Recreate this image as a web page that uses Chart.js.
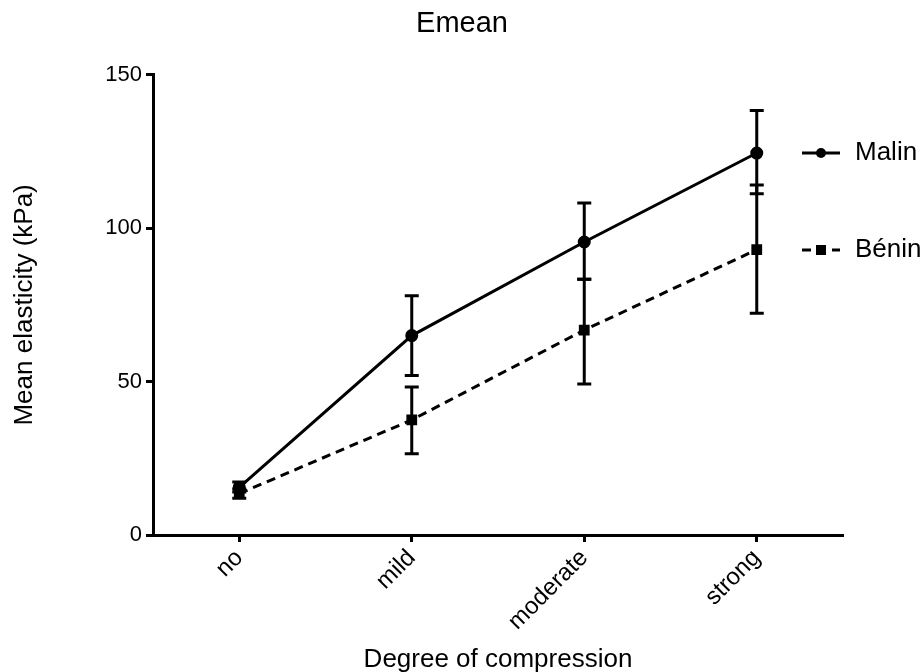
<!DOCTYPE html>
<html lang="en">
<head>
    <meta charset="UTF-8">
    <title>Emean</title>
    <style>
        body {
            margin: 0;
            background: #ffffff;
        }

        #wrap {
            width: 924px;
            height: 672px;
        }
    </style>
</head>
<body>

<div id="wrap">
    <canvas id="grafico" width="924" height="672"></canvas>
</div>

<script src="https://cdn.jsdelivr.net/npm/chart.js"></script>
<script>
    // categories on the x axis
    const categorias = ['no', 'mild', 'moderate', 'strong'];

    // mean values
    const malin = [15.5, 65, 95.5, 124.5];
    const benin = [13.5, 37.5, 66.8, 93];

    // error bar ends (upper / lower)
    const malinAlto = [17.3, 78, 108.2, 138.4];
    const malinBaixo = [14, 52, 83.4, 111.2];
    const beninAlto = [15, 48.2, 83.4, 114.1];
    const beninBaixo = [12, 26.5, 49.2, 72.3];

    const yTicks = [0, 50, 100, 150];

    const fonte = 'Liberation Sans, Arial, Helvetica, sans-serif';

    // draws error bars with the chart's own scales
    const barrasErro = {
        id: 'barrasErro',
        afterDatasetsDraw(chart) {
            const ctx = chart.ctx;
            const x = chart.scales.x;
            const y = chart.scales.y;
            chart.data.datasets.forEach(ds => {
                ds.alto.forEach((hi, i) => {
                    const px = x.getPixelForValue(i);
                    const yHi = y.getPixelForValue(hi);
                    const yLo = y.getPixelForValue(ds.baixo[i]);
                    ctx.save();
                    ctx.strokeStyle = '#000';
                    ctx.lineWidth = 3;
                    ctx.beginPath();
                    ctx.moveTo(px, yHi);
                    ctx.lineTo(px, yLo);
                    ctx.moveTo(px - 7, yHi);
                    ctx.lineTo(px + 7, yHi);
                    ctx.moveTo(px - 7, yLo);
                    ctx.lineTo(px + 7, yLo);
                    ctx.stroke();
                    ctx.restore();
                });
            });
        }
    };

    // legend on the right, GraphPad style
    const legenda = {
        id: 'legenda',
        afterDraw(chart) {
            const ctx = chart.ctx;
            const linhas = [153, 250];
            chart.data.datasets.forEach((ds, i) => {
                const yy = linhas[i];
                ctx.save();
                ctx.strokeStyle = '#000';
                ctx.fillStyle = '#000';
                ctx.lineWidth = 3;
                ctx.setLineDash(ds.borderDash || []);
                ctx.beginPath();
                ctx.moveTo(802, yy);
                ctx.lineTo(840, yy);
                ctx.stroke();
                ctx.setLineDash([]);
                if (ds.pointStyle === 'rect') {
                    ctx.fillRect(816, yy - 5, 10, 10);
                } else {
                    ctx.beginPath();
                    ctx.arc(821, yy, 5, 0, Math.PI * 2);
                    ctx.fill();
                }
                ctx.font = '26px ' + fonte;
                ctx.textBaseline = 'middle';
                ctx.fillText(ds.label, 855, yy);
                ctx.restore();
            });
        }
    };

    const ctx = document.getElementById('grafico').getContext('2d');
    new Chart(ctx, {
        type: 'line',
        data: {
            labels: categorias,
            datasets: [{
                label: 'Malin',
                data: malin,
                alto: malinAlto,
                baixo: malinBaixo,
                borderColor: '#000',
                backgroundColor: '#000',
                borderWidth: 3,
                pointStyle: 'circle',
                pointRadius: 5,
                tension: 0
            }, {
                label: 'Bénin',
                data: benin,
                alto: beninAlto,
                baixo: beninBaixo,
                borderColor: '#000',
                backgroundColor: '#000',
                borderWidth: 3,
                borderDash: [9, 6],
                pointStyle: 'rect',
                pointRadius: 5.5,
                tension: 0
            }]
        },
        options: {
            responsive: false,
            animation: false,
            layout: {
                padding: 0
            },
            plugins: {
                legend: { display: false },
                tooltip: { enabled: false },
                title: {
                    display: true,
                    text: 'Emean',
                    color: '#000',
                    font: { family: fonte, size: 29, weight: 'normal' },
                    padding: { top: 7, bottom: 33 }
                }
            },
            scales: {
                x: {
                    offset: true,
                    afterFit(scale) { scale.height = 137; },
                    border: { color: '#000', width: 3 },
                    grid: {
                        drawOnChartArea: false,
                        drawTicks: true,
                        tickLength: 7,
                        tickColor: '#000',
                        tickWidth: 3
                    },
                    ticks: {
                        color: '#000',
                        font: { family: fonte, size: 24 },
                        maxRotation: 45,
                        minRotation: 45,
                        padding: 2
                    },
                    title: {
                        display: true,
                        text: 'Degree of compression',
                        color: '#000',
                        font: { family: fonte, size: 26 },
                        padding: { top: 0, bottom: -3 }
                    }
                },
                y: {
                    min: 0,
                    max: 150,
                    afterFit(scale) { scale.width = 153; },
                    afterBuildTicks(scale) {
                        scale.ticks = yTicks.map(v => ({ value: v }));
                    },
                    border: { color: '#000', width: 3 },
                    grid: {
                        drawOnChartArea: false,
                        drawTicks: true,
                        tickLength: 7,
                        tickColor: '#000',
                        tickWidth: 3
                    },
                    ticks: {
                        color: '#000',
                        font: { family: fonte, size: 22 },
                        padding: 4
                    },
                    title: {
                        display: true,
                        text: 'Mean elasticity (kPa)',
                        color: '#000',
                        font: { family: fonte, size: 26 },
                        padding: { top: 9, bottom: 0 }
                    }
                },
                // empty strip on the right that holds the legend
                margem: {
                    position: 'right',
                    min: 0,
                    max: 1,
                    afterFit(scale) { scale.width = 81; },
                    border: { display: false },
                    grid: { display: false },
                    ticks: { display: false }
                }
            }
        },
        plugins: [barrasErro, legenda]
    });
</script>

</body>
</html>
